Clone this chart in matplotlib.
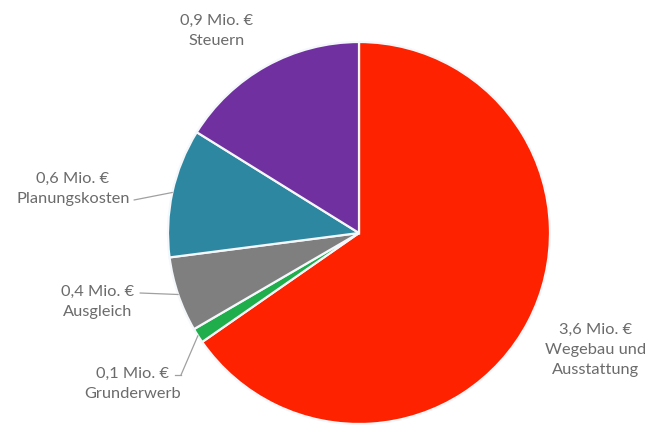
import matplotlib
matplotlib.use("Agg")
import matplotlib.pyplot as plt
import numpy as np

# Kosten in Mio. Euro (Reihenfolge im Uhrzeigersinn ab 12 Uhr)
categories = ["Wegebau und\nAusstattung", "Grunderwerb", "Ausgleich", "Planungskosten", "Steuern"]
values = [3.6, 0.07, 0.35, 0.6, 0.89]
value_labels = ["3,6 Mio. €", "0,1 Mio. €", "0,4 Mio. €", "0,6 Mio. €", "0,9 Mio. €"]
colors = ["#FF2200", "#1FAE4B", "#7F7F7F", "#2E87A0", "#7030A0"]

W, H = 650, 426
plt.rcParams['font.family'] = ['Lato', 'DejaVu Sans']
fig = plt.figure(figsize=(W / 100, H / 100), dpi=100)

# pie centre (359, 233) px from top-left, radius 191 px
cx, cy, r = 359, 233, 191
ax = fig.add_axes([(cx - r) / W, (H - cy - r) / H, 2 * r / W, 2 * r / H])
wedges, _ = ax.pie(values, colors=colors, startangle=90, counterclock=False,
                   radius=1, wedgeprops=dict(edgecolor="#F4F8FB", linewidth=1.6))
ax.set_xlim(-1, 1)
ax.set_ylim(-1, 1)
ax.set_aspect("equal")
ax.axis("off")

txt_color = "#6B6B6B"
line_color = "#A0A0A0"


def fpx(x, y):
    # pixel from top-left -> figure fraction
    return (x / W, 1 - y / H)


def wedge_point(w, frac=0.5):
    ang = np.deg2rad(w.theta1 + (w.theta2 - w.theta1) * frac)
    return np.cos(ang), np.sin(ang)


# label centres (px, top-left origin)
label_pos = {
    0: (596, 350),
    1: (133, 384),
    2: (98, 302),
    3: (73, 189),
    4: (217, 31),
}
for i, (x, y) in label_pos.items():
    fig.text(*fpx(x, y), value_labels[i] + "\n" + categories[i], ha="center", va="center",
             fontsize=11.8, color=txt_color, linespacing=1.55)

# leader lines
leaders = {
    3: [(134, 200)],
    2: [(140, 293)],
    1: [(175, 375), (181, 375)],
}
for i, pts in leaders.items():
    xy = wedge_point(wedges[i])
    ax.annotate("", xy=xy, xycoords="data", xytext=fpx(*pts[-1]), textcoords="figure fraction",
                arrowprops=dict(arrowstyle="-", color=line_color, lw=0.9, shrinkA=0, shrinkB=0))
    if len(pts) > 1:
        fig.add_artist(plt.Line2D([pts[0][0] / W, pts[1][0] / W], [1 - pts[0][1] / H, 1 - pts[1][1] / H],
                                  color=line_color, lw=0.9))

fig.savefig("out.png", dpi=100, facecolor="white")
